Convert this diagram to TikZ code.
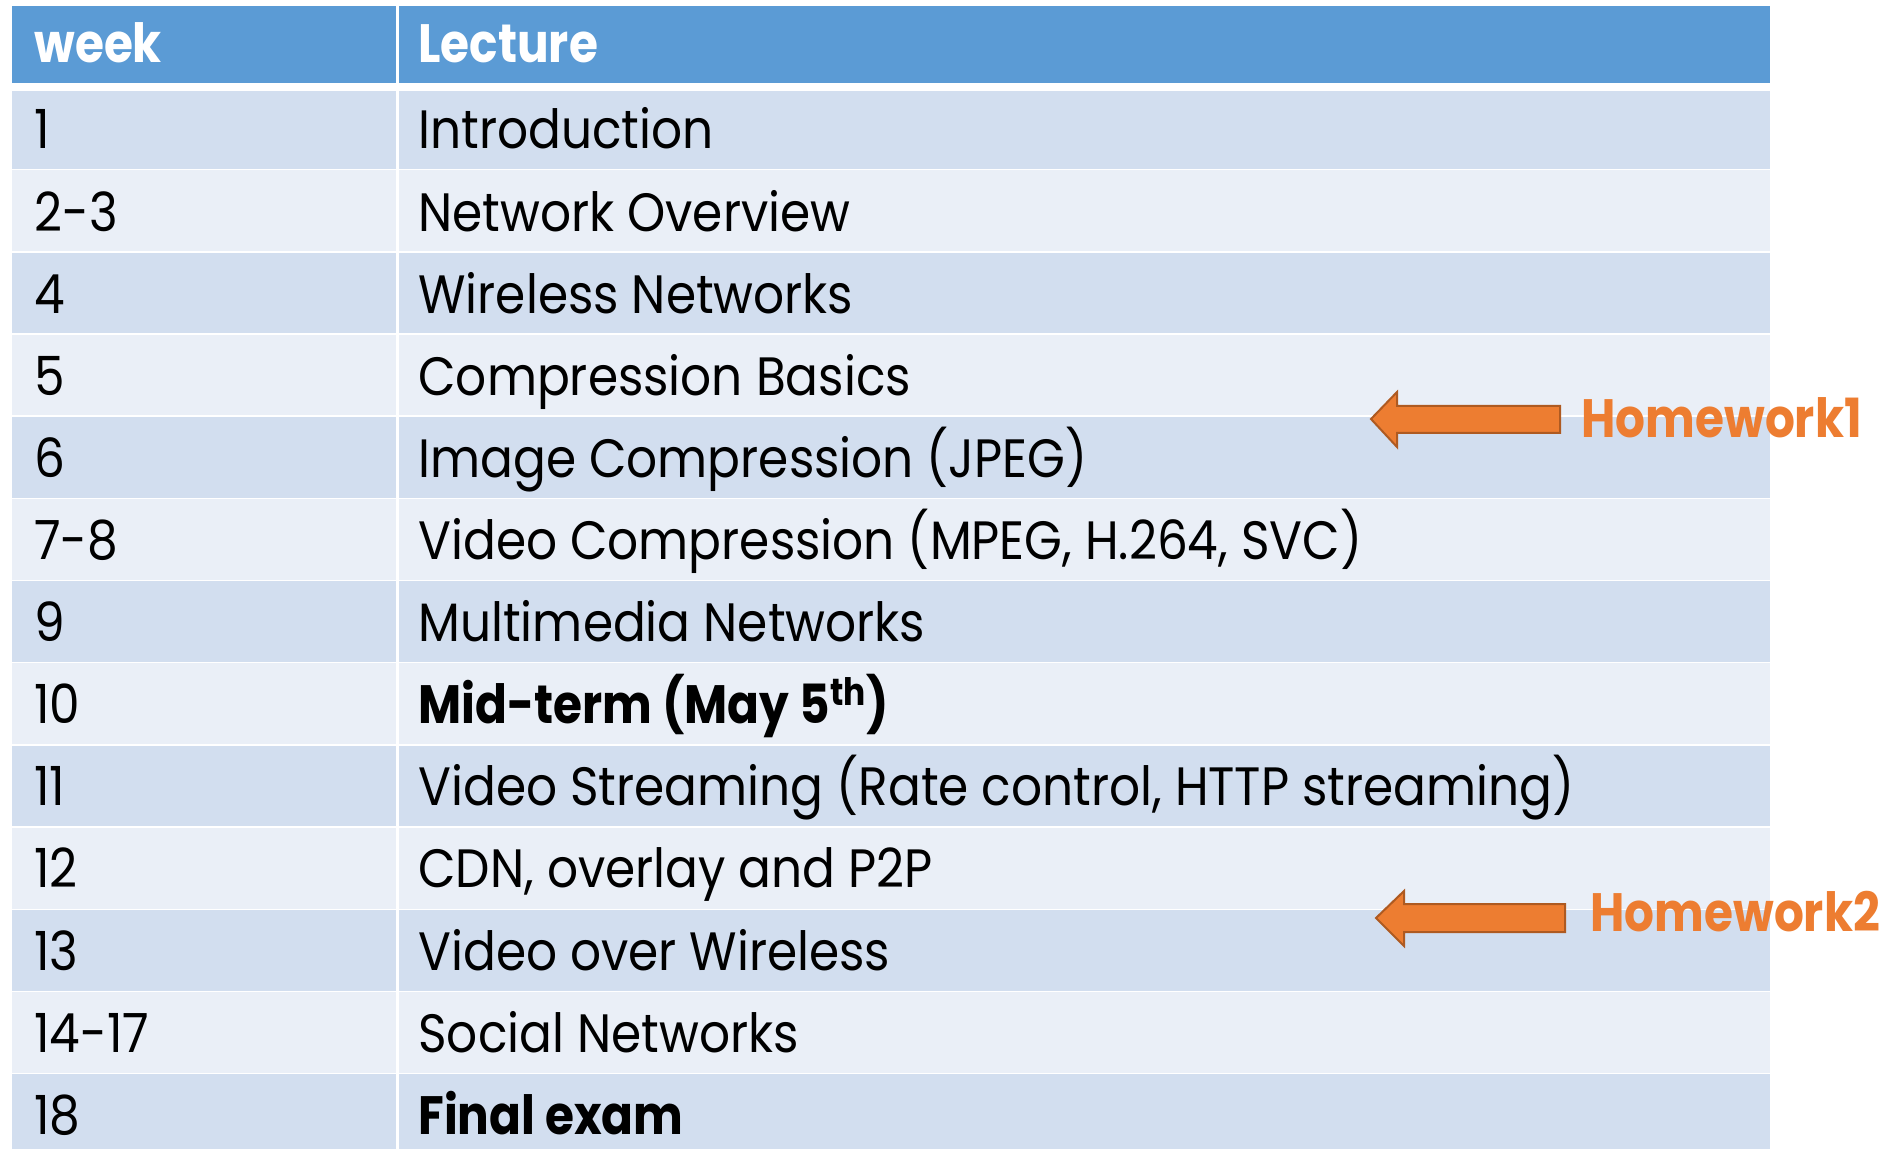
\documentclass[tikz,border=0pt]{standalone}
\usepackage{fontspec}
\setmainfont[FakeStretch=0.9,BoldFeatures={FakeStretch=0.87}]{Poppins}
\definecolor{hdr}{HTML}{5B9BD5}
\definecolor{rowA}{HTML}{D2DEEF}
\definecolor{rowB}{HTML}{EAEFF7}
\definecolor{hw}{HTML}{ED7D31}
\definecolor{hwedge}{HTML}{AE5A21}
\tikzset{
  cell/.style={anchor=base west, inner sep=0pt, font=\fontsize{27}{30}\selectfont},
  head/.style={cell, text=white, font=\fontsize{27}{30}\selectfont\bfseries},
  hwtext/.style={anchor=base west, inner sep=0pt, text=hw, font=\fontsize{27}{30}\selectfont\bfseries},
  blockarrow/.style={fill=hw, draw=hwedge, line width=1pt, line join=miter},
}
\begin{document}
\begin{tikzpicture}[x=0.5pt,y=-0.5pt]
\useasboundingbox (0,0) rectangle (1899,1149);
\fill[white] (0,0) rectangle (1899,1149);
% header
\fill[hdr] (12,6) rectangle (1770,84);
% data rows
\foreach \k in {1,...,13}{
  \pgfmathsetmacro{\top}{88.3+(\k-1)*82.17}
  \pgfmathsetmacro{\bot}{88.3+\k*82.17}
  \pgfmathtruncatemacro{\odd}{mod(\k,2)}
  \ifnum\odd=1 \fill[rowA] (12,\top) rectangle (1770,\bot);
  \else \fill[rowB] (12,\top) rectangle (1770,\bot); \fi
  \fill[white] (12,\bot-1.5) rectangle (1770,\bot+1.5);
}
\fill[white] (12,83) rectangle (1770,91);
\fill[white] (395.5,6) rectangle (398.5,1149);
% header text
\node[head] (hweek) at (34,63) {week};
\node[head] (hlect) at (418,63) {Lecture};
% rows text
\foreach \k/\w/\l in {
  1/1/Introduction,
  2/2-3/Network Overview,
  3/4/Wireless Networks,
  4/5/Compression Basics,
  5/6/Image Compression (JPEG),
  6/7-8/{Video Compression (MPEG, H.264, SVC)},
  7/9/Multimedia Networks,
  8/10/{\textbf{Mid-term (May 5\textsuperscript{th})}},
  9/11/{Video Streaming (Rate control, HTTP streaming)},
  10/12/{CDN, overlay and P2P},
  11/13/Video over Wireless,
  12/14-17/Social Networks,
  13/18/{\textbf{Final exam}}}{
  \pgfmathsetmacro{\bl}{149+(\k-1)*82.1}
  \node[cell] (w\k) at (34,\bl) {\w};
  \node[cell] (l\k) at (418,\bl) {\l};
}
% homework arrows
\draw[blockarrow] (1371,419) -- (1397,392) -- (1397,406) -- (1560,406) -- (1560,433) -- (1397,433) -- (1397,447) -- cycle;
\node[hwtext] (hw1) at (1581,438) {Homework1};
\draw[blockarrow] (1376,918) -- (1404,891) -- (1404,904) -- (1565,904) -- (1565,932) -- (1404,932) -- (1404,946) -- cycle;
\node[hwtext] (hw2) at (1590,931) {Homework2};
\end{tikzpicture}
\end{document}
